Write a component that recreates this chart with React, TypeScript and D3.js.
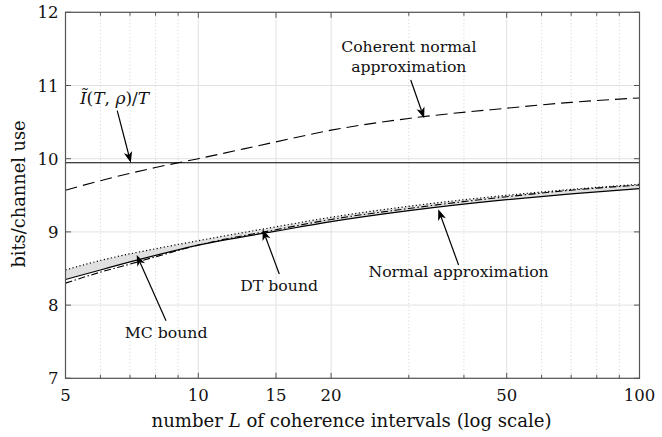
import * as d3 from "d3";

// number of coherence intervals L (log scale)
const L = [5, 6, 7, 8, 10, 15, 20, 30, 50, 70, 100];
// bits / channel use
const coherentNA = [9.57, 9.7, 9.8, 9.88, 10.0, 10.23, 10.39, 10.55, 10.69, 10.77, 10.83];
const dtBound = [8.48, 8.61, 8.7, 8.77, 8.88, 9.07, 9.2, 9.35, 9.5, 9.58, 9.65];
const mcBound = [8.35, 8.48, 8.59, 8.68, 8.82, 9.01, 9.14, 9.29, 9.44, 9.52, 9.59];
const normalApprox = [8.3, 8.45, 8.56, 8.66, 8.82, 9.03, 9.17, 9.32, 9.48, 9.57, 9.64];
const iTildeL = [5, 100];
const iTilde = [9.945, 9.945];

const xMajor = [5, 10, 15, 20, 50, 100];
const xMinor = [6, 7, 8, 9, 30, 40, 60, 70, 80, 90];
const yTicks = [7, 8, 9, 10, 11, 12];

// annotations: [tail L, tail value, tip L, tip value]
const arrows = [
  [6.55, 10.656, 7.03, 9.945],
  [30.3, 11.075, 32.5, 10.552],
  [8.45, 7.787, 7.25, 8.684],
  [15.26, 8.425, 13.99, 9.035],
  [38.9, 8.548, 34.99, 9.309],
];

const W = 662;
const H = 437;
const m = { left: 65.5, right: 639.5, top: 12.3, bottom: 378.3 };
const FONT = "DejaVu Serif";

export default function App() {
  const x = d3.scaleLog().domain([5, 100]).range([m.left, m.right]);
  const y = d3.scaleLinear().domain([7, 12]).range([m.bottom, m.top]);

  const lineOf = (vals: number[], xs: number[] = L) =>
    d3.line<number>()
      .x((_, i) => x(xs[i]))
      .y((d) => y(d))
      .curve(d3.curveMonotoneX)(vals) as string;

  const band = d3.area<number>()
    .x((_, i) => x(L[i]))
    .y0((_, i) => y(mcBound[i]))
    .y1((d) => y(d))
    .curve(d3.curveMonotoneX)(dtBound) as string;

  const arrowEls = arrows.map(([l0, v0, l1, v1], i) => {
    const x0 = x(l0), y0 = y(v0), x1 = x(l1), y1 = y(v1);
    const a = Math.atan2(y1 - y0, x1 - x0);
    const len = 11, half = 4.2, notch = 8;
    const ca = Math.cos(a), sa = Math.sin(a);
    const pt = (dx: number, dy: number) => [x1 + dx * ca - dy * sa, y1 + dx * sa + dy * ca];
    const head = [pt(0, 0), pt(-len, -half), pt(-notch, 0), pt(-len, half)];
    const [nx, ny] = pt(-notch, 0);
    return (
      <g key={i}>
        <line x1={x0} y1={y0} x2={nx} y2={ny} stroke="#000" strokeWidth={1.2} />
        <polygon points={head.map((p) => p.join(",")).join(" ")} fill="#000" />
      </g>
    );
  });

  const txt = { fontFamily: FONT };
  const annSize = 15.7;

  return (
    <svg width={W} height={H} style={{ position: "absolute", left: 0, top: 0, background: "#fff", fontFamily: FONT }}>
      <rect x={0} y={0} width={W} height={H} fill="#fff" />
      {/* grid */}
      {xMinor.map((t) => (
        <line key={"gm" + t} x1={x(t)} x2={x(t)} y1={m.top} y2={m.bottom} stroke="#c4c4c4" strokeWidth={0.8} strokeDasharray="1,2.5" />
      ))}
      {xMajor.map((t) => (
        <line key={"gx" + t} x1={x(t)} x2={x(t)} y1={m.top} y2={m.bottom} stroke="#e2e2e2" strokeWidth={1} />
      ))}
      {yTicks.map((t) => (
        <line key={"gy" + t} x1={m.left} x2={m.right} y1={y(t)} y2={y(t)} stroke="#e2e2e2" strokeWidth={1} />
      ))}

      {/* curves */}
      <path d={band} fill="#e0e0e0" stroke="none" />
      <path d={lineOf(iTilde, iTildeL)} fill="none" stroke="#000" strokeWidth={1.1} />
      <path d={lineOf(coherentNA)} fill="none" stroke="#000" strokeWidth={1.1} strokeDasharray="12,6" />
      <path d={lineOf(dtBound)} fill="none" stroke="#000" strokeWidth={1.2} strokeDasharray="1.2,2.4" />
      <path d={lineOf(normalApprox)} fill="none" stroke="#000" strokeWidth={1.1} strokeDasharray="7,2.5,1.5,2.5" />
      <path d={lineOf(mcBound)} fill="none" stroke="#000" strokeWidth={1.2} />

      {/* axes box and ticks */}
      <rect x={m.left} y={m.top} width={m.right - m.left} height={m.bottom - m.top} fill="none" stroke="#555" strokeWidth={1.2} />
      {[...xMajor.map((t) => [t, 5.5]), ...xMinor.map((t) => [t, 3.5])].map(([t, len]) => (
        <g key={"tx" + t} stroke="#555" strokeWidth={1}>
          <line x1={x(t)} x2={x(t)} y1={m.bottom} y2={m.bottom - len} />
          <line x1={x(t)} x2={x(t)} y1={m.top} y2={m.top + len} />
        </g>
      ))}
      {yTicks.map((t) => (
        <g key={"ty" + t} stroke="#555" strokeWidth={1}>
          <line x1={m.left} x2={m.left + 5.5} y1={y(t)} y2={y(t)} />
          <line x1={m.right} x2={m.right - 5.5} y1={y(t)} y2={y(t)} />
        </g>
      ))}

      {/* tick labels */}
      {xMajor.map((t) => (
        <text key={"lx" + t} style={txt} x={x(t)} y={401} fontSize={16.5} textAnchor="middle" fill="#111">{t}</text>
      ))}
      {yTicks.map((t) => (
        <text key={"ly" + t} style={txt} x={58.5} y={y(t) + 6} fontSize={16.5} textAnchor="end" fill="#111">{t}</text>
      ))}

      {/* axis labels */}
      <text style={txt} x={351.5} y={427} fontSize={18.1} textAnchor="middle" fill="#111">
        number <tspan fontStyle="italic">L</tspan> of coherence intervals (log scale)
      </text>
      <text style={txt} transform={`translate(25,194) rotate(-90)`} fontSize={17.8} textAnchor="middle" fill="#111">bits/channel use</text>

      {/* annotations */}
      {arrowEls}
      <text style={txt} x={x(5.39)} y={y(10.754)} fontSize={17} fill="#111">
        <tspan fontStyle="italic">Ĩ</tspan>(<tspan fontStyle="italic">T</tspan>, <tspan fontStyle="italic">ρ</tspan>)/<tspan fontStyle="italic">T</tspan>
      </text>
      <text style={txt} x={x(30)} y={y(11.458)} fontSize={annSize} textAnchor="middle" fill="#111">Coherent normal</text>
      <text style={txt} x={x(30)} y={y(11.178)} fontSize={annSize} textAnchor="middle" fill="#111">approximation</text>
      <text style={txt} x={x(38.9)} y={y(8.384)} fontSize={annSize} textAnchor="middle" fill="#111">Normal approximation</text>
      <text style={txt} x={x(15.25)} y={y(8.193)} fontSize={annSize} textAnchor="middle" fill="#111">DT bound</text>
      <text style={txt} x={x(8.45)} y={y(7.555)} fontSize={annSize} textAnchor="middle" fill="#111">MC bound</text>
    </svg>
  );
}
